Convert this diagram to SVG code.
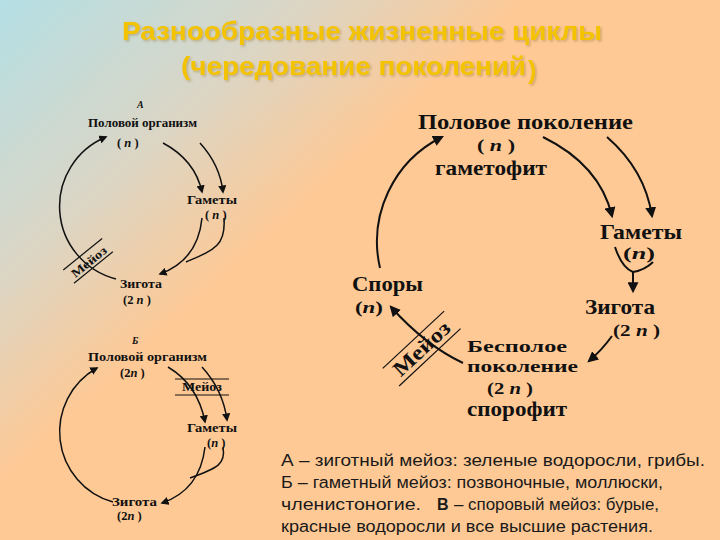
<svg xmlns="http://www.w3.org/2000/svg" width="720" height="540" viewBox="0 0 720 540">
<defs>
<linearGradient id="bg" gradientUnits="userSpaceOnUse" x1="0" y1="0" x2="300" y2="330">
<stop offset="0" stop-color="#b4dfe5"/>
<stop offset="0.45" stop-color="#dad6c6"/>
<stop offset="0.8" stop-color="#fec995"/>
<stop offset="1" stop-color="#ffc995"/>
</linearGradient>
<marker id="ah" viewBox="0 0 10 10" refX="8" refY="5" markerWidth="5.5" markerHeight="5.5" orient="auto">
<path d="M0,0 L10,5 L0,10 z" fill="#111"/>
</marker>
<filter id="sh" x="-5%" y="-20%" width="110%" height="140%">
<feDropShadow dx="1.5" dy="1.5" stdDeviation="0.8" flood-color="#a08040" flood-opacity="0.5"/>
</filter>
<style>
.t{font-family:"Liberation Serif","DejaVu Serif",serif;font-weight:bold;fill:#111}
.s{font-size:12.5px}
.b{font-size:21px}
.p{font-size:17px}
.i{font-style:italic}
.c{fill:none;stroke:#111;stroke-width:1.5}
.cb{fill:none;stroke:#111;stroke-width:2}
.a{marker-end:url(#ah)}
.ln{stroke:#111;stroke-width:1.2}
.title{font-family:"Liberation Sans",Arial,sans-serif;font-weight:bold;fill:#f4c300;font-size:25px}
.cap{font-family:"Liberation Sans",Arial,sans-serif;font-size:16px;fill:#1a1a1a}
</style>
</defs>
<rect width="720" height="540" fill="url(#bg)"/>

<g id="title" filter="url(#sh)">
<text class="title" x="122" y="40" textLength="480" lengthAdjust="spacingAndGlyphs">Разнообразные жизненные циклы</text>
<text class="title" x="181" y="75" textLength="345" lengthAdjust="spacingAndGlyphs">(чередование поколений</text>
<text class="title" x="528" y="79" font-size="32">)</text>
</g>

<g id="connectors">
<!-- A -->
<path class="c a" d="M116 279 A75 75 0 0 1 106 137"/>
<path class="c a" d="M163 143 Q195 160 202 192"/>
<path class="c a" d="M200 143 Q220 165 223 192"/>
<path class="c a" d="M202 218 Q198 260 160 274"/>
<path class="c" d="M224 218 C226 246 214 250 186 262"/>
<!-- B -->
<path class="c a" d="M113 502 A73 73 0 0 1 97 368"/>
<path class="c a" d="M168 367 Q198 385 205 422"/>
<path class="c a" d="M202 367 Q223 390 227 420"/>
<path class="c a" d="M205 447 Q200 490 162 503"/>
<path class="c" d="M223 447 C226 464 218 468 190 478"/>
<!-- V -->
<path class="cb a" d="M380 268 A117 117 0 0 1 442 137"/>
<path class="cb a" d="M543 137 Q600 165 612 216"/>
<path class="cb a" d="M607 137 Q645 170 652 216"/>
<path class="cb" d="M615 247 Q622 268 633 272"/>
<path class="cb" d="M653 262 Q645 270 633 272"/>
<path class="cb a" d="M633 272 L633 291"/>
<path class="cb a" d="M612 336 Q602 350 589 361"/>
<path class="cb a" d="M463 363 Q425 345 391 307"/>
</g>

<g id="node-A-label"><text class="t i" x="137" y="108" font-size="10">А</text></g>
<g id="node-A-org">
<text class="t s" x="88" y="127" textLength="109" lengthAdjust="spacingAndGlyphs">Половой организм</text>
<text class="t s" x="117" y="147">( <tspan class="i">n</tspan> )</text>
</g>
<g id="node-A-gam">
<text class="t s" x="187" y="204" textLength="50" lengthAdjust="spacingAndGlyphs">Гаметы</text>
<text class="t s" x="205" y="219">( <tspan class="i">n</tspan> )</text>
</g>
<g id="node-A-zyg">
<text class="t s" x="120" y="288" textLength="42" lengthAdjust="spacingAndGlyphs">Зигота</text>
<text class="t s" x="123" y="304">(2 <tspan class="i">n</tspan> )</text>
</g>
<g id="node-A-meioz" transform="translate(89 262) rotate(-39)">
<line class="ln" x1="-25" y1="-10" x2="25" y2="-10"/>
<line class="ln" x1="-25" y1="7" x2="25" y2="7"/>
<text class="t" x="0" y="4" font-size="12" text-anchor="middle" textLength="42" lengthAdjust="spacingAndGlyphs">Мейоз</text>
</g>

<g id="node-B-label"><text class="t i" x="132" y="344" font-size="10">Б</text></g>
<g id="node-B-org">
<text class="t s" x="88" y="361" textLength="119" lengthAdjust="spacingAndGlyphs">Половой организм</text>
<text class="t s" x="120" y="377">(2<tspan class="i">n</tspan> )</text>
</g>
<g id="node-B-meioz">
<line class="ln" x1="175" y1="379" x2="229" y2="379"/>
<line class="ln" x1="175" y1="395" x2="229" y2="395"/>
<text class="t s" x="202" y="391" text-anchor="middle" textLength="40" lengthAdjust="spacingAndGlyphs">Мейоз</text>
</g>
<g id="node-B-gam">
<text class="t s" x="187" y="432" textLength="50" lengthAdjust="spacingAndGlyphs">Гаметы</text>
<text class="t s" x="207" y="447">(<tspan class="i">n</tspan> )</text>
</g>
<g id="node-B-zyg">
<text class="t s" x="112" y="506" textLength="45" lengthAdjust="spacingAndGlyphs">Зигота</text>
<text class="t s" x="117" y="520">(2<tspan class="i">n</tspan> )</text>
</g>

<g id="node-V-gametophyte">
<text class="t b" x="418" y="129" textLength="215" lengthAdjust="spacingAndGlyphs">Половое поколение</text>
<text class="t" font-size="16" x="477" y="151" textLength="38" lengthAdjust="spacingAndGlyphs">( <tspan class="i">n</tspan> )</text>
<text class="t b" x="435" y="175" textLength="112" lengthAdjust="spacingAndGlyphs">гаметофит</text>
</g>
<g id="node-V-gam">
<text class="t b" x="600" y="239" textLength="82" lengthAdjust="spacingAndGlyphs">Гаметы</text>
<text class="t p" x="623" y="259" textLength="32" lengthAdjust="spacingAndGlyphs">(<tspan class="i">n</tspan>)</text>
</g>
<g id="node-V-zyg">
<text class="t b" x="585" y="314" textLength="70" lengthAdjust="spacingAndGlyphs">Зигота</text>
<text class="t p" x="613" y="336" textLength="47" lengthAdjust="spacingAndGlyphs">(2 <tspan class="i">n</tspan> )</text>
</g>
<g id="node-V-sporophyte">
<text class="t" font-size="17" x="467" y="352" textLength="100" lengthAdjust="spacingAndGlyphs">Бесполое</text>
<text class="t" font-size="17" x="467" y="372" textLength="111" lengthAdjust="spacingAndGlyphs">поколение</text>
<text class="t p" x="487" y="394" textLength="46" lengthAdjust="spacingAndGlyphs">(2 <tspan class="i">n</tspan> )</text>
<text class="t b" x="467" y="416" textLength="100" lengthAdjust="spacingAndGlyphs">спорофит</text>
</g>
<g id="node-V-spores">
<text class="t b" x="352" y="291" textLength="71" lengthAdjust="spacingAndGlyphs">Споры</text>
<text class="t p" x="355" y="313" textLength="28" lengthAdjust="spacingAndGlyphs">(<tspan class="i">n</tspan>)</text>
</g>
<g id="node-V-meioz" transform="translate(423 350) rotate(-43)">
<line class="ln" x1="-42" y1="-14" x2="42" y2="-14" stroke-width="1.5"/>
<line class="ln" x1="-42" y1="10" x2="42" y2="10" stroke-width="1.5"/>
<text class="t b" x="0" y="5" text-anchor="middle" textLength="70" lengthAdjust="spacingAndGlyphs">Мейоз</text>
</g>

<g id="caption">
<text class="cap" x="281" y="466" textLength="424" lengthAdjust="spacingAndGlyphs">А – зиготный мейоз: зеленые водоросли, грибы.</text>
<text class="cap" x="281" y="488" textLength="382" lengthAdjust="spacingAndGlyphs">Б – гаметный мейоз: позвоночные, моллюски,</text>
<text class="cap" x="281" y="510" textLength="140" lengthAdjust="spacingAndGlyphs">членистоногие.</text>
<text class="cap" x="437" y="510" font-weight="bold">В</text>
<text class="cap" x="454" y="510" textLength="205" lengthAdjust="spacingAndGlyphs">– споровый мейоз: бурые,</text>
<text class="cap" x="281" y="532" textLength="372" lengthAdjust="spacingAndGlyphs">красные водоросли и все высшие растения.</text>
</g>
</svg>
